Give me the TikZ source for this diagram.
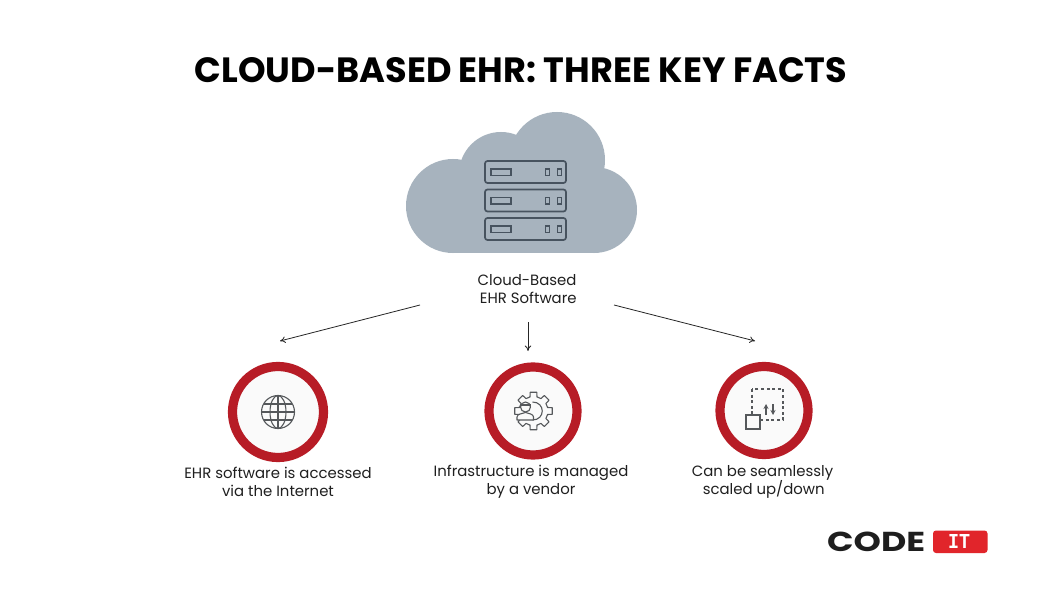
\documentclass[tikz,border=0pt]{standalone}
\usepackage{fontspec}
\setmainfont{Poppins}
\newfontfamily\monob{Liberation Mono}
\usetikzlibrary{arrows.meta}
\definecolor{cloudc}{HTML}{A7B3BE}
\definecolor{iconc}{HTML}{47535F}
\definecolor{ringc}{HTML}{B71C26}
\definecolor{iconb}{HTML}{55585B}
\definecolor{logor}{HTML}{E1252B}
\definecolor{logok}{HTML}{1E1E1E}
\tikzset{
  x=1pt,y=-1pt,
  lbl/.style={font=\fontsize{14.9}{18}\selectfont,align=center,text=black!88,inner sep=0pt},
  arr/.style={-{To[length=5.5pt,width=6.5pt]},line width=0.8pt,black!85},
  srv/.style={draw=iconc,line width=1.7pt,rounded corners=2.5pt},
  srvs/.style={draw=iconc,line width=1.5pt},
  ring/.style={circle,draw=ringc,line width=9.2pt,fill=black!2,inner sep=0pt},
  ico/.style={draw=iconb,line width=1.1pt},
}
\begin{document}
\begin{tikzpicture}
\useasboundingbox (0,0) rectangle (1042,607);
\fill[white] (0,0) rectangle (1042,607);
\node[font=\fontsize{35.1}{40}\selectfont\bfseries,inner sep=0pt,anchor=center] (title) at (521,70) {CLOUD-BASED EHR: THREE KEY FACTS};
% cloud
\fill[cloudc] (453,206) circle[radius=47];
\fill[cloudc] (501,174) circle[radius=42];
\fill[cloudc] (557,160) circle[radius=48];
\fill[cloudc] (594,210) circle[radius=43];
\fill[cloudc] (453,175) rectangle (594,253);
% servers
\foreach \y in {161,189.5,218}{
  \draw[srv] (485,\y) rectangle (566,\y+22);
  \draw[srvs] (491,\y+8) rectangle (511,\y+14.5);
  \draw[srvs] (545.5,\y+8) rectangle (549.5,\y+14.5);
  \draw[srvs] (557.5,\y+8) rectangle (561.5,\y+14.5);
}
\node[lbl] (cloudlabel) at (527,289) {Cloud-Based\\\,EHR Software};
% connectors
\coordinate (a1s) at (420,305); \coordinate (a1e) at (280,341);
\coordinate (a2s) at (528,322); \coordinate (a2e) at (528,351);
\coordinate (a3s) at (614,305); \coordinate (a3e) at (755,341);
\draw[arr] (a1s) -- (a1e);
\draw[arr] (a2s) -- (a2e);
\draw[arr] (a3s) -- (a3e);
% rings
\node[ring,minimum size=91pt] (r1) at (278,412) {};
\node[ring,minimum size=88pt] (r2) at (533,411) {};
\node[ring,minimum size=88pt] (r3) at (764,410.5) {};
% globe
\draw[ico] (278,412) circle[radius=16.5];
\draw[ico] (278,412) ellipse[x radius=8,y radius=16.5];
\draw[ico] (278,395.5) -- (278,428.5);
\draw[ico] (261.5,412) -- (294.5,412);
\draw[ico] (263.7,404) -- (292.3,404);
\draw[ico] (263.7,420) -- (292.3,420);
% gear
\begin{scope}[shift={(533.5,411)}]
\draw[ico,line join=round]
  \foreach \a [count=\i from 0] in {0,45,...,315}{
    \ifnum\i=0 ({\a-14}:14.5) \else -- ({\a-14}:14.5) \fi
    -- ({\a-10}:19) -- ({\a+10}:19) -- ({\a+14}:14.5)
  } -- cycle;
\draw[ico] (-1,-9) .. controls (12,-9) and (12,9) .. (-1,9);
\draw[ico,fill=black!2] (-8,-4) circle[radius=5];
\draw[ico] (-13,-6) -- (-3,-6);
\draw[ico,fill=black!2,line join=round] (-16.5,9) -- (-16.5,6) .. controls (-16.5,3) and (-11,2.5) .. (-8,1.5) .. controls (-5,2.5) and (0,3) .. (0,6) -- (0,9) -- cycle;
\end{scope}
% scale icon
\draw[ico,line width=1.3pt,dash pattern=on 3pt off 2.6pt] (752,389) rectangle (783,420);
\draw[ico,fill=black!2,line width=1.2pt] (746,415) rectangle (760,429);
\draw[ico,-{Stealth[length=5pt,width=5pt]},line width=1.2pt] (766,415) -- (766,404);
\draw[ico,-{Stealth[length=5pt,width=5pt]},line width=1.2pt] (773,404) -- (773,415);
% captions
\node[lbl] (c1) at (278,482) {EHR software is accessed\\via the Internet};
\node[lbl] (c2) at (531,482) {Infrastructure is managed\\by a vendor};
\node[lbl] (c3) at (762.5,482) {Can be seamlessly\\\,scaled up/down};
% logo
\node[inner sep=0pt,anchor=west,text=logok] (logo) at (827,541.5) {\resizebox{98pt}{19.5pt}{\bfseries CODE}};
\fill[logor,rounded corners=3pt] (933,530.5) rectangle (987.5,553);
\node[inner sep=0pt,text=white] (logoit) at (959,541.5) {\resizebox{22pt}{14pt}{\monob\bfseries IT}};
\end{tikzpicture}
\end{document}
